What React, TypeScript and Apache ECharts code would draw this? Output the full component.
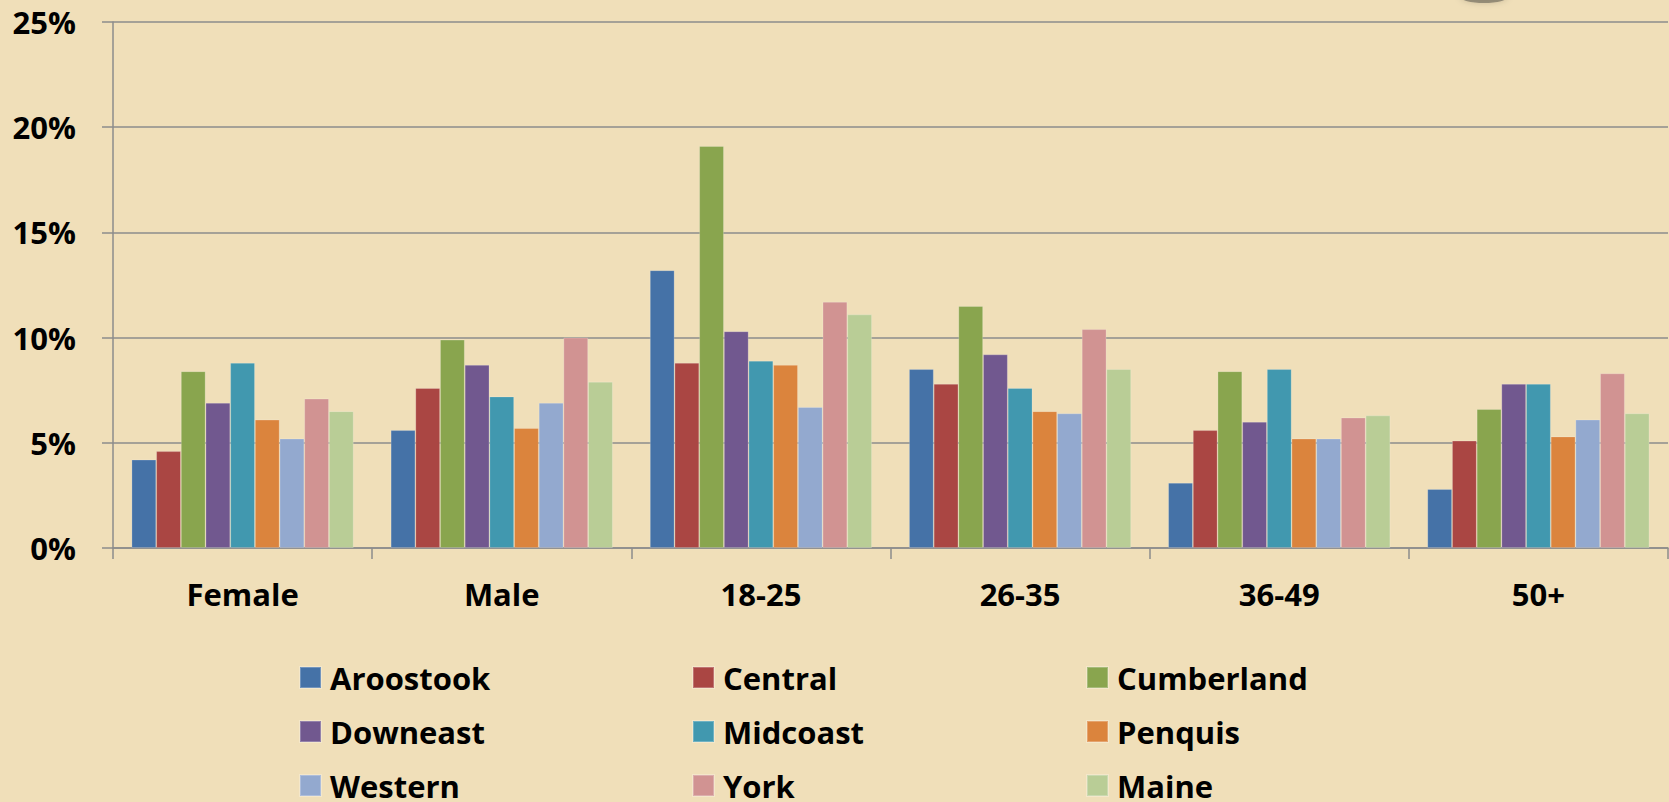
import React, { useEffect, useRef } from "react";
import * as echarts from "echarts";

const categories = ["Female", "Male", "18-25", "26-35", "36-49", "50+"];
const yTicks = [0, 5, 10, 15, 20, 25];

const aroostook = [4.2, 5.6, 13.2, 8.5, 3.1, 2.8];
const central = [4.6, 7.6, 8.8, 7.8, 5.6, 5.1];
const cumberland = [8.4, 9.9, 19.1, 11.5, 8.4, 6.6];
const downeast = [6.9, 8.7, 10.3, 9.2, 6.0, 7.8];
const midcoast = [8.8, 7.2, 8.9, 7.6, 8.5, 7.8];
const penquis = [6.1, 5.7, 8.7, 6.5, 5.2, 5.3];
const western = [5.2, 6.9, 6.7, 6.4, 5.2, 6.1];
const york = [7.1, 10.0, 11.7, 10.4, 6.2, 8.3];
const maine = [6.5, 7.9, 11.1, 8.5, 6.3, 6.4];

const seriesNames = ["Aroostook", "Central", "Cumberland", "Downeast", "Midcoast", "Penquis", "Western", "York", "Maine"];
const seriesData = [aroostook, central, cumberland, downeast, midcoast, penquis, western, york, maine];
const colors = ["#4572A7", "#AA4643", "#89A54E", "#71588F", "#4198AF", "#DB843D", "#93A9CF", "#D19392", "#B9CD96"];

const legendColumns = [
  ["Aroostook", "Downeast", "Western"],
  ["Central", "Midcoast", "York"],
  ["Cumberland", "Penquis", "Maine"],
];

const FONT = "'Open Sans', sans-serif";

export default function App() {
  const ref = useRef<HTMLDivElement>(null);
  useEffect(() => {
    if (!ref.current) return;
    const chart = echarts.init(ref.current, undefined, { renderer: "svg" });
    const legendLefts = [299, 692, 1086];
    chart.setOption({
      animation: false,
      backgroundColor: "#F0DFB9",
      color: colors,
      textStyle: { fontFamily: FONT },
      graphic: [
        {
          type: "ellipse",
          shape: { cx: 1484, cy: -3, rx: 24, ry: 6 },
          style: { fill: "rgba(90,85,75,0.55)", shadowBlur: 6, shadowColor: "rgba(0,0,0,0.3)" },
          silent: true,
        },
      ],
      grid: { left: 113, right: 1, top: 22, bottom: 254, containLabel: false },
      legend: legendColumns.map((col, i) => ({
        data: col,
        orient: "vertical",
        left: legendLefts[i],
        top: 662,
        height: 200,
        itemWidth: 21,
        itemHeight: 21,
        itemGap: 23,
        icon: "rect",
        padding: 0,
        textStyle: {
          fontFamily: FONT,
          fontWeight: "bold",
          fontSize: 31,
          lineHeight: 31,
          color: "#000",
          padding: [0, 0, 0, 4],
        },
      })),
      xAxis: {
        type: "category",
        data: categories,
        axisLine: { show: true, lineStyle: { color: "#8C8C8C", width: 1.5 } },
        axisTick: { show: true, length: 11, lineStyle: { color: "#8C8C8C", width: 1.5 } },
        axisLabel: {
          fontFamily: FONT,
          fontWeight: "bold",
          fontSize: 31,
          color: "#000",
          margin: 30,
        },
      },
      yAxis: {
        type: "value",
        min: 0,
        max: 25,
        interval: 5,
        axisLine: { show: true, lineStyle: { color: "#8C8C8C", width: 1.5 } },
        axisTick: { show: true, length: 11, lineStyle: { color: "#8C8C8C", width: 1.5 } },
        splitLine: { show: true, lineStyle: { color: "#8C8C8C", width: 1.5 } },
        axisLabel: {
          fontFamily: FONT,
          fontWeight: "bold",
          fontSize: 31,
          color: "#000",
          margin: 37,
          formatter: (v: number) => (yTicks.includes(v) ? `${v}%` : ""),
        },
      },
      series: seriesNames.map((name, i) => ({
        name,
        type: "bar",
        data: seriesData[i],
        barGap: "0%",
        barCategoryGap: "14.3%",
        itemStyle: { color: colors[i], borderColor: "rgba(255,255,255,0.25)", borderWidth: 0.8 },
      })),
    });
    return () => chart.dispose();
  }, []);
  return (
    <div
      ref={ref}
      style={{ position: "absolute", left: 0, top: 0, width: "1669px", height: "802px" }}
    />
  );
}
